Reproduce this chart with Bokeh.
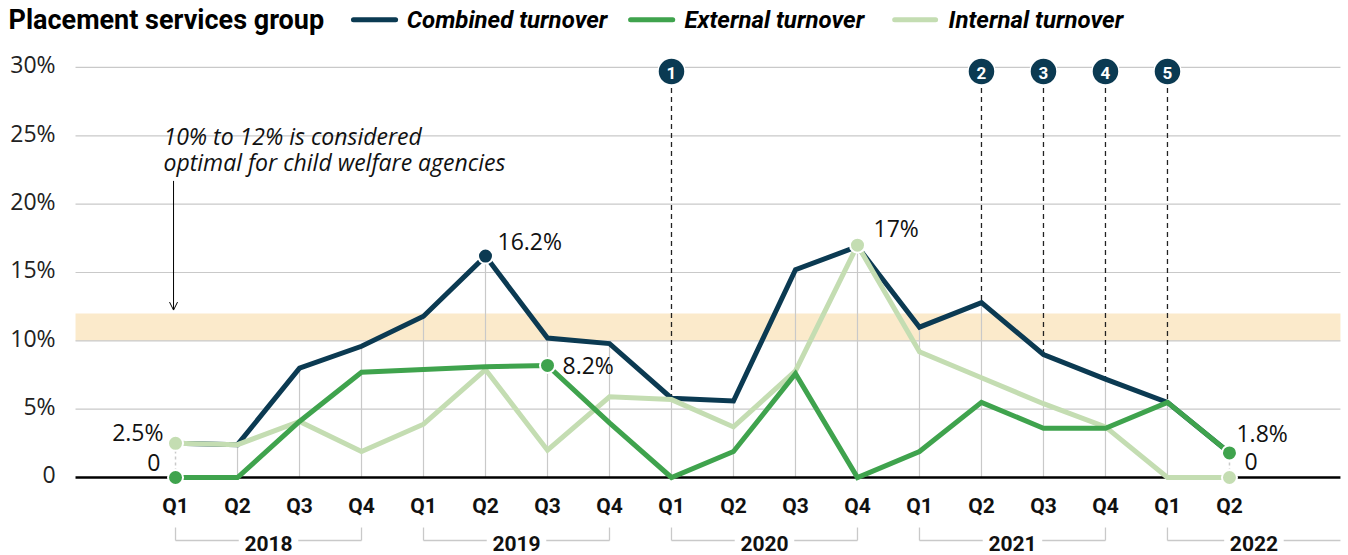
from bokeh.plotting import figure
from bokeh.models import Arrow, OpenHead
from bokeh.core.properties import value
from bokeh.embed import file_html
from bokeh.resources import INLINE

# ---------------- data ----------------
quarters = ["Q1", "Q2", "Q3", "Q4"] * 4 + ["Q1", "Q2"]
years = ["2018", "2019", "2020", "2021", "2022"]
combined = [2.5, 2.4, 8.0, 9.6, 11.8, 16.2, 10.2, 9.8, 5.8, 5.6, 15.2, 16.9, 11.0, 12.8, 9.0, 7.2, 5.5, 1.8]
external = [0, 0, 4.1, 7.7, 7.9, 8.1, 8.2, 4.0, 0, 1.9, 7.6, 0, 1.9, 5.5, 3.6, 3.6, 5.5, 1.8]
internal = [2.5, 2.4, 4.1, 1.9, 3.9, 7.9, 2.0, 5.9, 5.7, 3.7, 7.8, 17.0, 9.2, 7.3, 5.4, 3.7, 0, 0]
y_ticks = [0, 5, 10, 15, 20, 25, 30]
y_tick_labels = ["0", "5%", "10%", "15%", "20%", "25%", "30%"]
optimal_band = [10, 12]
event_labels = ["1", "2", "3", "4", "5"]
event_quarter = [8, 13, 14, 15, 16]

# ---------------- style ----------------
NAVY = "#0b3a52"
GREEN = "#3fa34d"
LIGHT = "#c4ddb2"
BAND = "#fbeacb"
GRID = "#c9c9c9"
FONT = value("Open Sans")
BOLD = value("Roboto")

x = list(range(len(quarters)))
X0, X1 = -2.823, 18.92
Y0, Y1 = -5.707, 34.90
GRID_LEFT, GRID_RIGHT = -1.613, 18.79

p = figure(width=1348, height=555, x_range=(X0, X1), y_range=(Y0, Y1),
           output_backend="svg", toolbar_location=None, min_border=0)
p.axis.visible = False
p.grid.visible = False
p.outline_line_color = None
p.background_fill_color = "white"

# optimal band
p.quad(left=GRID_LEFT, right=GRID_RIGHT, bottom=optimal_band[0], top=optimal_band[1],
       fill_color=BAND, line_color=None)

# horizontal grid
gy = [t for t in y_ticks if t != 0]
p.segment(x0=[GRID_LEFT] * len(gy), x1=[GRID_RIGHT] * len(gy), y0=gy, y1=gy,
          line_color=GRID, line_width=1.2)

# y tick labels
p.text(x=[-1.935] * len(y_ticks), y=y_ticks, text=y_tick_labels, text_font=FONT,
       text_font_size="23px", text_color="#222222", text_align="right",
       text_baseline="middle", y_offset=-3)

# vertical drop lines
tops = [max(c, e, i) for c, e, i in zip(combined, external, internal)]
solid_idx = list(range(1, len(x) - 1))
p.segment(x0=[x[k] for k in solid_idx], x1=[x[k] for k in solid_idx],
          y0=[0] * len(solid_idx), y1=[tops[k] for k in solid_idx],
          line_color=GRID, line_width=1.2)
for k in (0, len(x) - 1):
    p.segment(x0=[x[k]], x1=[x[k]], y0=[min(external[k], internal[k])],
              y1=[max(external[k], internal[k])], line_color=GRID,
              line_width=1.5, line_dash="3 3")

# event dashed lines
p.segment(x0=event_quarter, x1=event_quarter, y0=[28.5] * len(event_quarter),
          y1=[combined[k] for k in event_quarter], line_color="#222222",
          line_width=1.3, line_dash="5 4")

# baseline
p.segment(x0=[GRID_LEFT], x1=[GRID_RIGHT], y0=[0], y1=[0], line_color="black", line_width=2.5)

# series lines
p.line(x, combined, line_color=NAVY, line_width=5, line_join="miter")
p.line(x, internal, line_color=LIGHT, line_width=5, line_join="miter")
p.line(x, external, line_color=GREEN, line_width=5, line_join="miter")

# highlight dots
def dot(k, series, color):
    p.scatter([x[k]], [series[k]], size=15, fill_color=color, line_color="white", line_width=2)

dot(0, internal, LIGHT)
dot(0, external, GREEN)
dot(5, combined, NAVY)
dot(6, external, GREEN)
dot(11, internal, LIGHT)
dot(17, external, GREEN)
dot(17, internal, LIGHT)

def fmt(v):
    return "0" if v == 0 else f"{v:g}%"

def vlabel(k, series, xo, yo, align):
    p.text(x=[x[k]], y=[series[k]], text=[fmt(series[k])], x_offset=xo, y_offset=yo,
           text_font=FONT, text_font_size="23px", text_color="#111111",
           text_align=align, text_baseline="middle")

vlabel(0, internal, -12, -11, "right")
vlabel(0, external, -15, -15, "right")
vlabel(5, combined, 12, -15, "left")
vlabel(6, external, 15, 0, "left")
vlabel(11, internal, 16, -17, "left")
vlabel(17, external, 7, -20, "left")
vlabel(17, internal, 15, -16, "left")

# event markers
p.scatter(event_quarter, [29.7] * len(event_quarter), size=27, fill_color=NAVY,
          line_color="white", line_width=1.5)
p.text(x=event_quarter, y=[29.7] * len(event_quarter), text=event_labels,
       text_font=BOLD, text_font_style="bold", text_font_size="17px",
       text_color="white", text_align="center", text_baseline="middle", y_offset=1)

# quarter labels
p.text(x=x, y=[-2.05] * len(x), text=quarters, text_font=BOLD, text_font_style="bold",
       text_font_size="21px", text_color="#111111", text_align="center",
       text_baseline="middle")

# year brackets
GAP = 0.48
for n, yr in enumerate(years):
    s = 4 * n
    if s + 3 < len(x):
        e = s + 3
        mid = (s + e) / 2
        p.segment(x0=[s, e], x1=[s, e], y0=[-3.66, -3.66], y1=[-4.61, -4.61],
                  line_color=GRID, line_width=1.3)
    else:
        e = GRID_RIGHT
        mid = (s + e) / 2
        p.segment(x0=[s], x1=[s], y0=[-3.66], y1=[-4.61], line_color=GRID, line_width=1.3)
    p.segment(x0=[s, mid + GAP], x1=[mid - GAP, e], y0=[-4.61, -4.61], y1=[-4.61, -4.61],
              line_color=GRID, line_width=1.3)
    p.text(x=[mid], y=[-4.83], text=[yr], text_font=BOLD, text_font_style="bold",
           text_font_size="21px", text_color="#111111", text_align="center",
           text_baseline="middle")

# annotation
p.text(x=[-0.194, -0.194], y=[25.0, 23.05],
       text=["10% to 12% is considered", "optimal for child welfare agencies"],
       text_font=FONT, text_font_style="italic", text_font_size="23px",
       text_color="#111111", text_align="left", text_baseline="middle")
p.add_layout(Arrow(x_start=-0.032, y_start=21.7, x_end=-0.032, y_end=12.25,
                   end=OpenHead(size=8, line_width=1, line_color="black"),
                   line_width=1, line_color="black"))

# title and legend
p.text(x=[-2.694], y=[33.5], text=["Placement services group"], text_font=BOLD,
       text_font_style="bold", text_font_size="27px", text_color="black",
       text_align="left", text_baseline="middle")
leg = [("Combined turnover", NAVY, 2.87, 3.55, 3.73),
       ("External turnover", GREEN, 7.34, 8.02, 8.21),
       ("Internal turnover", LIGHT, 11.6, 12.26, 12.47)]
for name, col, a, b, t in leg:
    p.segment(x0=[a], x1=[b], y0=[33.5], y1=[33.5], line_color=col, line_width=5,
              line_cap="round")
    p.text(x=[t], y=[33.5], text=[name], text_font=BOLD, text_font_style="bold italic",
           text_font_size="24px", text_color="black", text_align="left",
           text_baseline="middle")

open("out.html", "w").write(file_html(p, INLINE))
